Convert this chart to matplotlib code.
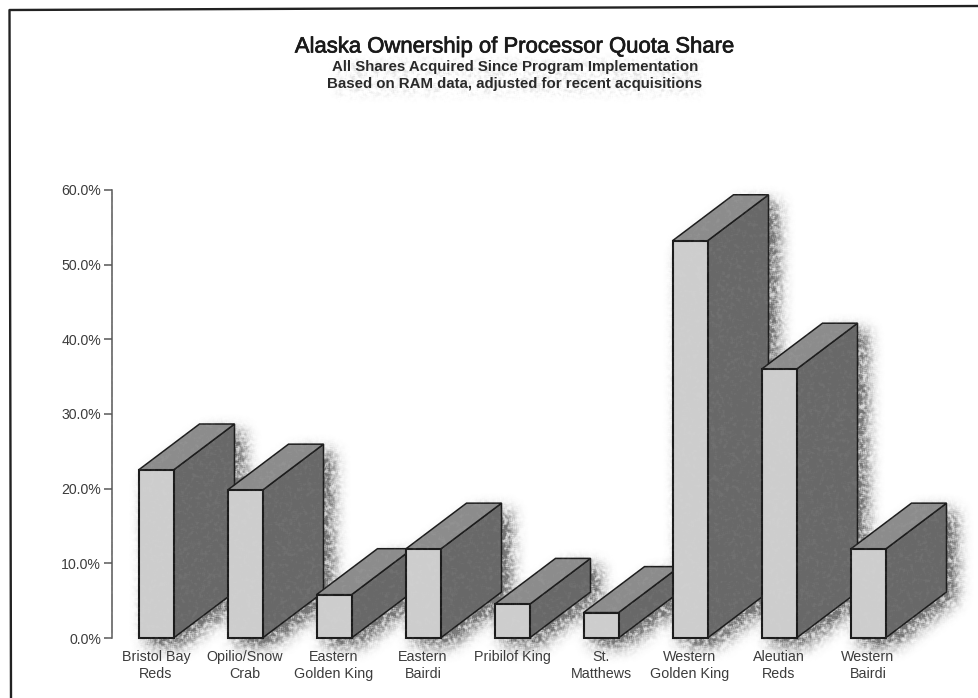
import numpy as np
import matplotlib
matplotlib.use("Agg")
import matplotlib.pyplot as plt
import matplotlib.patheffects as pe
from matplotlib.patches import Polygon
from matplotlib.path import Path
from matplotlib.lines import Line2D

plt.rcParams['font.family'] = ['Liberation Sans', 'DejaVu Sans']

labels = ["Bristol Bay\nReds", "Opilio/Snow\nCrab", "Eastern\nGolden King",
          "Eastern\nBairdi", "Pribilof King", "St.\nMatthews",
          "Western\nGolden King", "Aleutian\nReds", "Western\nBairdi"]
shares = [22.5, 19.8, 5.8, 11.9, 4.5, 3.4, 53.2, 36.0, 11.9]
yticks = [0, 10, 20, 30, 40, 50, 60]

W, H = 979, 698
fig = plt.figure(figsize=(W / 100, H / 100), dpi=100, facecolor='white')


def blur(a, n, passes=3):
    # repeated box filter, close enough to a gaussian
    k = np.ones(n) / n
    for _ in range(passes):
        a = np.apply_along_axis(lambda r: np.convolve(r, k, mode='same'), 0, a)
        a = np.apply_along_axis(lambda r: np.convolve(r, k, mode='same'), 1, a)
    return a


def speckle(seed, size=3):
    # print grain, only a surface texture
    yy, xx = np.mgrid[0:H, 0:W]
    n = np.sin(xx * 12.9898 + yy * 78.233 + seed) * 43758.5453
    n = n - np.floor(n)
    n = blur(n, size, 1)
    return np.clip((n - n.mean()) / n.std() * 0.25 + 0.5, 0, 1)


# axes box in pixels, 0% on y=638 and 60% on y=190
ax_left, ax_right, ax_top, ax_bot = 112, 972, 190, 638
ax = fig.add_axes([ax_left / W, 1 - ax_bot / H, (ax_right - ax_left) / W, (ax_bot - ax_top) / H], zorder=2)
ax.patch.set_alpha(0)

px_x = 89.0                     # pixels per category
px_y = (ax_bot - ax_top) / 60.0 # pixels per percent
first = 156.0
ax.set_xlim((ax_left - first) / px_x, (ax_right - first) / px_x)
ax.set_ylim(0, 60)

half = 17.5 / px_x
dx = 61.0 / px_x
dy = 46.0 / px_y

for s in ['top', 'right', 'bottom']:
    ax.spines[s].set_visible(False)
ax.spines['left'].set_color('#555555')
ax.spines['left'].set_linewidth(1.1)
ax.set_xticks(range(len(labels)))
ax.set_xticklabels(labels, fontsize=10.3, color='#3a3a3a', linespacing=1.28)
ax.tick_params(axis='x', length=0, pad=8.5)
ax.set_yticks(yticks)
ax.set_yticklabels(["%.1f%%" % v for v in yticks], fontsize=10.2, color='#3a3a3a')
ax.tick_params(axis='y', length=6, width=1.1, color='#555555', pad=2)

# soft shadow layer, built from the bar outlines
fig.canvas.draw()
yy, xx = np.mgrid[0:H, 0:W]
pix = np.column_stack([xx.ravel() + 0.5, (H - yy.ravel() - 0.5)])
mask = np.zeros((H, W))
for i, v in enumerate(shares):
    x0, x1 = i - half, i + half
    outline = [(x0, 0), (x1, 0), (x1 + dx, dy), (x1 + dx, v + dy), (x0 + dx, v + dy), (x0, v)]
    verts = ax.transData.transform(outline) + np.array([9, -8])
    mask[Path(verts).contains_points(pix).reshape(H, W)] = 1
density = blur(mask, 15)
density = density * (0.35 + 1.0 * speckle(1.0))

# faint smudge under the heading lines
smudge = np.zeros((H, W))
smudge[60:95, 335:700] = 1
density = np.maximum(density, blur(smudge, 9) * 0.16 * speckle(2.0) ** 2)

back = fig.add_axes([0, 0, 1, 1], zorder=1)
back.axis('off')
rgba = np.zeros((H, W, 4))
rgba[..., :3] = 0.36
rgba[..., 3] = np.clip(density, 0, 0.85)
back.imshow(rgba, aspect='auto', interpolation='bilinear')

for i, v in enumerate(shares):
    x0, x1 = i - half, i + half
    z = 2 + i
    front = [(x0, 0), (x1, 0), (x1, v), (x0, v)]
    side = [(x1, 0), (x1 + dx, dy), (x1 + dx, v + dy), (x1, v)]
    top = [(x0, v), (x1, v), (x1 + dx, v + dy), (x0 + dx, v + dy)]
    ax.add_patch(Polygon(side, closed=True, fc='#686868', ec='#1c1c1c', lw=1.1, clip_on=False, zorder=z))
    ax.add_patch(Polygon(top, closed=True, fc='#8c8c8c', ec='#1c1c1c', lw=1.1, clip_on=False, zorder=z))
    ax.add_patch(Polygon(front, closed=True, fc='#cdcdcd', ec='#1c1c1c', lw=1.5, clip_on=False, zorder=z))

# very light grain over the whole plot, white so the paper stays clean
over = fig.add_axes([0, 0, 1, 1], zorder=3)
over.axis('off')
grain = np.ones((H, W, 4))
grain[..., 3] = np.clip((speckle(3.0) - 0.45) * 0.1, 0, 0.07)
over.imshow(grain, aspect='auto', interpolation='bilinear')

# page frame, open at the bottom and right
fig.add_artist(Line2D([11 / W, 9.5 / W, 1], [0, 1 - 10 / H, 1 - 6 / H], color='#222222', lw=1.7, zorder=5))

title_fx = [pe.withStroke(linewidth=0.5, foreground='#1a1a1a')]
fig.text(515 / W, 1 - 47 / H, "Alaska Ownership of Processor Quota Share", ha='center', va='center',
         fontsize=15.9, color='#1a1a1a', path_effects=title_fx, zorder=6)
fig.text(515 / W, 1 - 67 / H, "All Shares Acquired Since Program Implementation", ha='center', va='center',
         fontsize=10.8, fontweight='bold', color='#2a2a2a', zorder=6)
fig.text(515 / W, 1 - 84 / H, "Based on RAM data, adjusted for recent acquisitions", ha='center', va='center',
         fontsize=10.8, fontweight='bold', color='#2a2a2a', zorder=6)

fig.savefig('out.png', dpi=100)
